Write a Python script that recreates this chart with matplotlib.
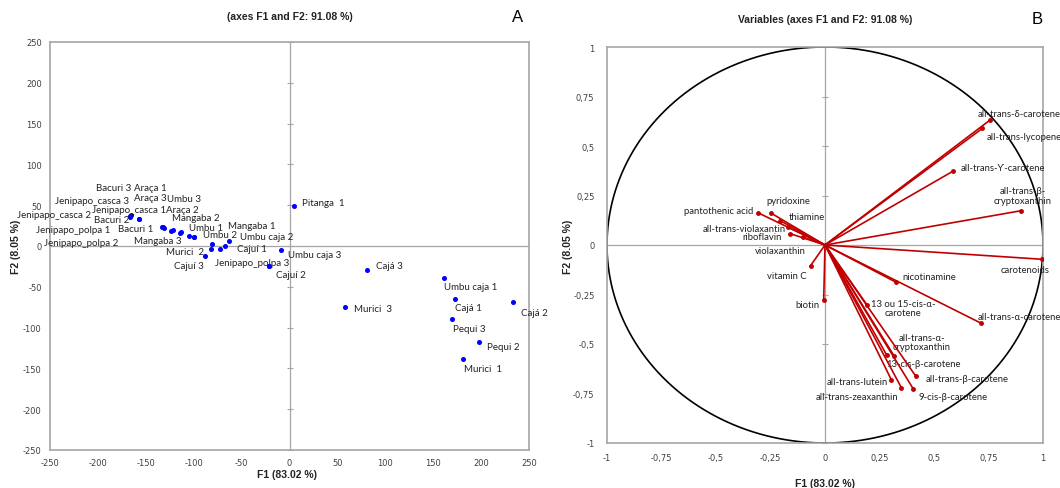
import matplotlib.pyplot as plt
import numpy as np

# observations (scores on F1 / F2)
obs_names = ['Jenipapo_casca 1', 'Jenipapo_casca 2', 'Jenipapo_casca 3',
             'Bacuri 2', 'Bacuri 3', 'Bacuri 1',
             'Jenipapo_polpa 1', 'Jenipapo_polpa 2',
             'Araça 1', 'Araça 3', 'Araça 2', 'Umbu 3',
             'Mangaba 2', 'Umbu 1', 'Mangaba 3', 'Mangaba 1', 'Umbu 2',
             'Umbu caja 2', 'Murici  2', 'Cajuí 1', 'Cajuí 3', 'Umbu caja 3',
             'Jenipapo_polpa 3', 'Cajuí 2', 'Pitanga  1', 'Cajá 3', 'Murici  3',
             'Umbu caja 1', 'Cajá 1', 'Cajá 2', 'Pequi 3', 'Pequi 2', 'Murici  1']
obs_f1 = [-166, -167, -165, -156.6, -157, -132, -133, -131,
          -124, -121.8, -113.8, -113, -104.7, -99.5, -100, -63.3, -80.7,
          -67.5, -81.7, -72.3, -88.4, -8.4, -21.6, -21, 4.2, 80.7, 57.7,
          161, 173, 233.5, 170, 197.3, 181.3]
obs_f2 = [37, 36, 38, 32.7, 33.5, 23.7, 23, 22.5,
          18.8, 19.6, 16.3, 17, 12.3, 11.4, 11, 6.5, 2.5,
          0.4, -3.7, -3.7, -12.7, -4.5, -24, -24.5, 49.4, -29.4, -74.4,
          -38.8, -64.5, -69, -89.5, -118, -138.5]
# label offsets in pixels (left edge, vertical centre)
obs_off = [(-38, 6), (-113, 2), (-76, 14), (-45, 0), (-43, 31), (-45, -2),
           (-126, -2), (-120, -15), (-37, 43), (-39, 33), (-14, 23), (-14, 34),
           (-17, 18), (-5, 9), (-60, -3), (-1, 15), (-9, 9), (15, 9),
           (-45, -2), (17, 1), (-31, -9), (7, -5), (-54, 3), (7, -9),
           (8, 3), (9, 4), (9, -2), (0, -9), (0, -9), (8, -10), (1, -9),
           (8, -4), (1, -9)]

# variables (loadings on F1 / F2)
var_names = ['all-trans-δ-carotene', 'all-trans-lycopene', 'all-trans-Ƴ-carotene',
             'all-trans-β-\ncryptoxanthin', 'carotenoids', 'nicotinamine',
             'all-trans-α-carotene', '13 ou 15-cis-α-\ncarotene', 'vitamin C',
             'biotin', 'pantothenic acid', 'pyridoxine', 'thiamine',
             'all-trans-violaxantin', 'riboflavin', 'violaxanthin',
             'all-trans-α-\ncryptoxanthin', '13-cis-β-carotene',
             'all-trans-β-carotene', 'all-trans-lutein', 'all-trans-zeaxanthin',
             '9-cis-β-carotene']
var_f1 = [0.757, 0.722, 0.589, 0.899, 0.995, 0.324, 0.714, 0.193, -0.066,
          -0.006, -0.306, -0.249, -0.206, -0.17, -0.159, -0.10, 0.283, 0.318,
          0.416, 0.304, 0.35, 0.405]
var_f2 = [0.631, 0.589, 0.374, 0.173, -0.072, -0.187, -0.394, -0.303, -0.104,
          -0.279, 0.162, 0.162, 0.123, 0.09, 0.057, 0.04, -0.556, -0.562,
          -0.662, -0.68, -0.72, -0.727]
var_lab = [(-12, 7, 'left'), (4, -8, 'left'), (7, 3, 'left'), (2, 15, 'center'),
           (-41, -10, 'left'), (7, 6, 'left'), (-3, 7, 'left'), (36, -3, 'center'),
           (-4, -10, 'right'), (-4, -4, 'right'), (-5, 2, 'right'), (-4, 12, 'left'),
           (9, 4, 'left'), (-2, -1, 'right'), (-9, -3, 'right'), (3, -13, 'right'),
           (35, 13, 'center'), (-8, -7, 'left'), (10, -2, 'left'), (-3, -2, 'right'),
           (-3, -9, 'right'), (5, -8, 'left')]

grey = '#a6a6a6'
red = '#c00000'
fam = ['Lato', 'DejaVu Sans']
tick_col = '#404040'

fig = plt.figure(figsize=(10.6, 4.89), dpi=100)


def frame(ax, xt, yt, xlab, ylab, xpad, ypad):
    for s in ax.spines.values():
        s.set_color(grey)
        s.set_linewidth(1.2)
    ax.axhline(0, color=grey, lw=0.9, zorder=1)
    ax.axvline(0, color=grey, lw=0.9, zorder=1)
    ax.plot(np.zeros(len(yt)), yt, ls='none', marker='_', ms=5, mew=0.8,
            color=grey, zorder=1, clip_on=False)
    ax.set_xticks(xt)
    ax.set_yticks(yt)
    ax.set_xticklabels(xlab)
    ax.set_yticklabels(ylab)
    ax.tick_params(length=0, labelsize=6, colors=tick_col)
    ax.tick_params(axis='x', pad=xpad)
    ax.tick_params(axis='y', pad=ypad)


# ---- A : observations ----
ax1 = fig.add_axes([50 / 1060, 1 - 451 / 489, 479 / 1060, 408 / 489])
ax1.set_xlim(-250, 250)
ax1.set_ylim(-250, 250)
t1 = list(range(-250, 251, 50))
frame(ax1, t1, t1, [str(v) for v in t1], [str(v) for v in t1], 6, 6)
ax1.plot(obs_f1, obs_f2, ls='none', marker='o', ms=2.6, color='#0000ff', zorder=3)
for n, x, y, (dx, dy) in zip(obs_names, obs_f1, obs_f2, obs_off):
    ax1.annotate(n, (x, y), xytext=(dx, dy), textcoords='offset pixels',
                 ha='left', va='center', fontsize=7, family=fam, color='#222222')

# ---- B : variables ----
ax2 = fig.add_axes([607 / 1060, 1 - 444 / 489, 436 / 1060, 396 / 489])
ax2.set_xlim(-1, 1)
ax2.set_ylim(-1, 1)
t2 = [-1, -0.75, -0.5, -0.25, 0, 0.25, 0.5, 0.75, 1]
lab2 = [('%g' % v).replace('.', ',') for v in t2]
frame(ax2, t2, t2, lab2, lab2, 7, 9)
th = np.linspace(0, 2 * np.pi, 400)
ax2.plot(np.cos(th), np.sin(th), color='black', lw=1.2, zorder=2)
for n, x, y, (dx, dy, ha) in zip(var_names, var_f1, var_f2, var_lab):
    ax2.plot([0, x], [0, y], color=red, lw=1.2, zorder=3)
    ax2.annotate(n, (x, y), xytext=(dx, dy), textcoords='offset pixels',
                 ha=ha, va='center', fontsize=6.8, family=fam, color='#222222',
                 multialignment='center', linespacing=1.1)
ax2.plot(var_f1, var_f2, ls='none', marker='o', ms=2.5, color=red, zorder=4)

# titles and axis labels
tkw = dict(fontsize=7.5, fontweight='bold', family='Liberation Sans', color='#222222')
fig.text(290 / 1060, 1 - 17 / 489, '(axes F1 and F2: 91.08 %)', ha='center', va='center', **tkw)
fig.text(825 / 1060, 1 - 20 / 489, 'Variables (axes F1 and F2: 91.08 %)', ha='center', va='center', **tkw)
fig.text(518 / 1060, 1 - 17 / 489, 'A', ha='center', va='center', fontsize=12, family='Liberation Sans')
fig.text(1037 / 1060, 1 - 20 / 489, 'B', ha='center', va='center', fontsize=12, family='Liberation Sans')
fig.text(287 / 1060, 1 - 475 / 489, 'F1 (83.02 %)', ha='center', va='center', **tkw)
fig.text(825 / 1060, 1 - 484 / 489, 'F1 (83.02 %)', ha='center', va='center', **tkw)
fig.text(16 / 1060, 1 - 247 / 489, 'F2 (8.05 %)', ha='center', va='center', rotation=90, **tkw)
fig.text(568 / 1060, 1 - 247 / 489, 'F2 (8.05 %)', ha='center', va='center', rotation=90, **tkw)

fig.savefig('out.png', dpi=100)
